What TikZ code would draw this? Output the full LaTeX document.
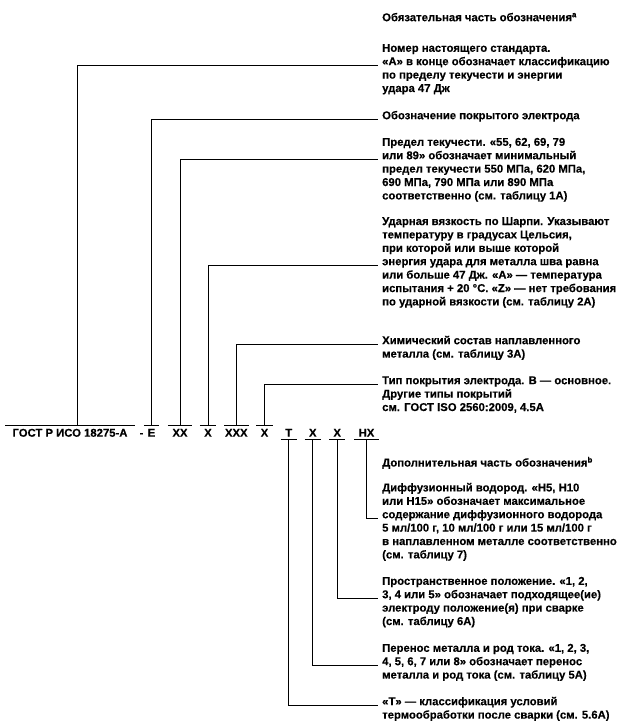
\documentclass[tikz,border=0pt]{standalone}
\usepackage{fontspec}
\setmainfont[FakeBold=0.3]{Liberation Sans}
\begin{document}
\begin{tikzpicture}[x=1pt,y=-1pt,
  txt/.style={anchor=north west, inner sep=0pt, align=left, font=\fontsize{11.3}{13.4}\selectfont\bfseries},
  lab/.style={inner sep=0pt, text height=11pt, text depth=2.3pt, anchor=base, font=\fontsize{11.3}{13.4}\selectfont\bfseries},
  wire/.style={line width=0.85pt, black},
  bar/.style={line width=0.85pt, black}]
\useasboundingbox (0,0) rectangle (621,725);

% ---- designation labels
\node[lab, minimum width=129pt] (g) at (70,436.7) {ГОСТ Р ИСО 18275-А};
\node[lab] (hy) at (141.5,436.7) {-};
\node[lab, minimum width=15pt] (lE) at (151.5,436.7) {E};
\node[lab, minimum width=24pt] (lXX) at (180,436.7) {XX};
\node[lab, minimum width=16pt] (lX1) at (208,436.7) {X};
\node[lab, minimum width=24pt] (lXXX) at (236.3,436.7) {XXX};
\node[lab, minimum width=16pt] (lX2) at (264.5,436.7) {X};
\node[lab, minimum width=16pt] (lT) at (288.8,436.7) {T};
\node[lab, minimum width=16pt] (lX3) at (312.8,436.7) {X};
\node[lab, minimum width=16pt] (lX4) at (337.2,436.7) {X};
\node[lab, minimum width=24pt] (lHX) at (366.5,436.7) {HX};

\foreach \n in {g,lE,lXX,lX1,lXXX,lX2}
  \draw[bar] (\n.north west) -- (\n.north east);
\foreach \n in {lT,lX3,lX4,lHX}
  \draw[bar] (\n.south west) -- (\n.south east);

% ---- explanation texts
\node[txt] (h1) at (382,11.62) {\strut Обязательная часть обозначения\textsuperscript{a}};
\node[txt] (t1) at (382,42.22) {\strut Номер настоящего стандарта.\\«А» в конце обозначает классификацию\\по пределу текучести и энергии\\удара 47 Дж};
\node[txt] (t2) at (382,109.62) {\strut Обозначение покрытого электрода};
\node[txt] (t3) at (382,136.22) {\strut Предел текучести. «55, 62, 69, 79\\или 89» обозначает минимальный\\предел текучести 550 МПа, 620 МПа,\\690 МПа, 790 МПа или 890 МПа\\соответственно (см. таблицу 1А)};
\node[txt] (t4) at (382,215.42) {\strut Ударная вязкость по Шарпи. Указывают\\температуру в градусах Цельсия,\\при которой или выше которой\\энергия удара для металла шва равна\\или больше 47 Дж. «А» — температура\\испытания + 20 °С. «Z» — нет требования\\по ударной вязкости (см. таблицу 2А)};
\node[txt] (t5) at (382,334.62) {\strut Химический состав наплавленного\\металла (см. таблицу 3А)};
\node[txt] (t6) at (382,374.62) {\strut Тип покрытия электрода. В — основное.\\Другие типы покрытий\\см. ГОСТ ISO 2560:2009, 4.5А};
\node[txt] (h2) at (382,456.62) {\strut Дополнительная часть обозначения\textsuperscript{b}};
\node[txt] (t7) at (382,481.82) {\strut Диффузионный водород. «Н5, Н10\\или Н15» обозначает максимальное\\содержание диффузионного водорода\\5 мл/100 г, 10 мл/100 г или 15 мл/100 г\\в наплавленном металле соответственно\\(см. таблицу 7)};
\node[txt] (t8) at (382,575.22) {\strut Пространственное положение. «1, 2,\\3, 4 или 5» обозначает подходящее(ие)\\электроду положение(я) при сварке\\(см. таблицу 6А)};
\node[txt] (t9) at (382,642.22) {\strut Перенос металла и род тока. «1, 2, 3,\\4, 5, 6, 7 или 8» обозначает перенос\\металла и род тока (см. таблицу 5А)};
\node[txt] (t10) at (382,695.62) {\strut «Т» — классификация условий\\термообработки после сварки (см. 5.6А)};

% ---- connector ends
\coordinate (c1) at (378,65);
\coordinate (c2) at (378,119);
\coordinate (c3) at (378,159);
\coordinate (c4) at (378,265);
\coordinate (c5) at (378,344);
\coordinate (c6) at (378,384);
\coordinate (c7) at (378,518);
\coordinate (c8) at (378,598);
\coordinate (c9) at (378,665);
\coordinate (c10) at (378,705);

% ---- connectors
\draw[wire] ([xshift=7.3pt]g.north) |- (c1);
\draw[wire] (lE.north) |- (c2);
\draw[wire] (lXX.north) |- (c3);
\draw[wire] (lX1.north) |- (c4);
\draw[wire] (lXXX.north) |- (c5);
\draw[wire] (lX2.north) |- (c6);
\draw[wire] (lHX.south) |- (c7);
\draw[wire] (lX4.south) |- (c8);
\draw[wire] (lX3.south) |- (c9);
\draw[wire] (lT.south) |- (c10);
\end{tikzpicture}
\end{document}
